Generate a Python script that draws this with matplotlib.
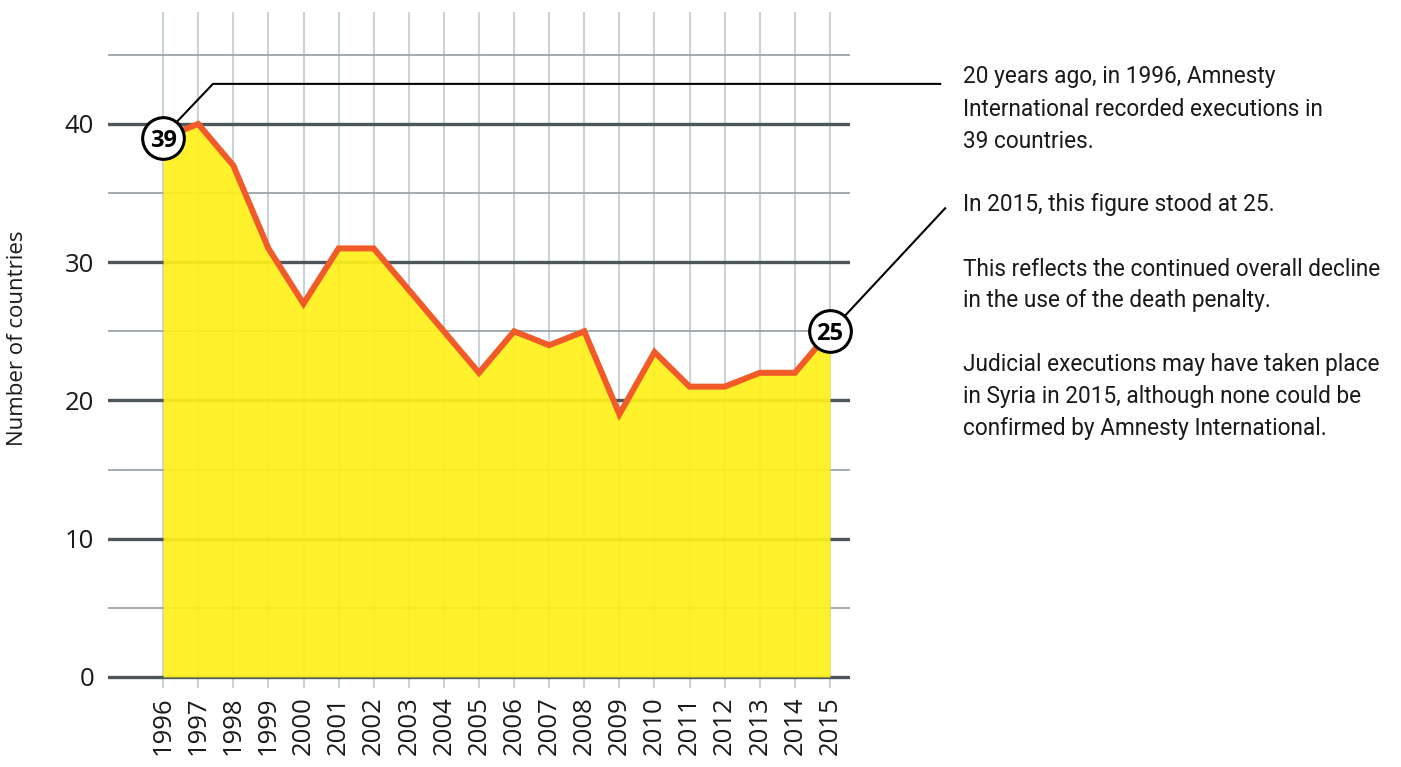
import matplotlib
matplotlib.use("Agg")
import matplotlib.pyplot as plt
import numpy as np

plt.rcParams['font.family'] = ['Open Sans', 'DejaVu Sans']

years = [1996, 1997, 1998, 1999, 2000, 2001, 2002, 2003, 2004, 2005,
         2006, 2007, 2008, 2009, 2010, 2011, 2012, 2013, 2014, 2015]
countries = [39, 40, 37, 31, 27, 31, 31, 28, 25, 22,
             25, 24, 25, 19, 23.5, 21, 21, 22, 22, 25]
major_ticks = [0, 10, 20, 30, 40]
minor_ticks = [5, 15, 25, 35, 45]
note_1996 = ["20 years ago, in 1996, Amnesty",
             "International recorded executions in",
             "39 countries."]
note_2015 = ["In 2015, this figure stood at 25.",
             "",
             "This reflects the continued overall decline",
             "in the use of the death penalty.",
             "",
             "Judicial executions may have taken place",
             "in Syria in 2015, although none could be",
             "confirmed by Amnesty International."]

W, H = 1401, 767
fig = plt.figure(figsize=(W / 100, H / 100), dpi=100)
ax = fig.add_axes([108 / W, 1 - 688 / H, (850 - 108) / W, (688 - 12) / H])
ax.set_xlim(1994.43, 2015.57)
ax.set_ylim(-0.8, 48.1)

# grid
for yr in years:
    ax.axvline(yr, color='#cbd3d9', lw=1.5, zorder=1)
for v in minor_ticks:
    ax.axhline(v, color='#9aa5ab', lw=1.3, zorder=1)
for v in major_ticks:
    ax.axhline(v, color='#4b565d', lw=2.4, zorder=1)

ax.fill_between(years, countries, 0, color='#fff11a', alpha=0.92, lw=0, zorder=2)
ax.plot(years, countries, color='#f15a29', lw=4.3, solid_joinstyle='miter', zorder=3)

for axis in ['top', 'right', 'bottom', 'left']:
    ax.spines[axis].set_visible(False)
ax.set_xticks(years)
ax.set_xticklabels([str(y) for y in years], rotation=90, fontsize=18.5,
                   color='#1a1a1a')
ax.set_yticks(major_ticks)
ax.set_yticklabels([str(v) for v in major_ticks], fontsize=18.5, color='#1a1a1a')
ax.tick_params(length=0, pad=10)
ax.tick_params(axis='x', pad=6)

fig.text(18 / W, 1 - 338 / H, "Number of countries", rotation=90,
         fontsize=16, va='center', ha='center', color='#1a1a1a')

# callout circles
for idx in [0, len(years) - 1]:
    ax.plot(years[idx], countries[idx], 'o', ms=30, mfc='white', mec='black',
            mew=2.2, zorder=6, clip_on=False)
    ax.text(years[idx], countries[idx], f"{countries[idx]:g}", ha='center',
            va='center_baseline', fontsize=17, fontweight='bold', zorder=7)

# leader lines
ax.plot([1996.37, 1997.42, 2018.14], [40.1, 42.9, 42.9], color='black',
        lw=1.5, zorder=5, clip_on=False)
ax.plot([2015.38, 2018.28], [26.0, 33.9], color='black', lw=1.5,
        zorder=5, clip_on=False)

# notes
note_font = ['Roboto', 'DejaVu Sans']
for i, line in enumerate(note_1996):
    fig.text(963 / W, 1 - (77 + i * 32) / H, line, fontsize=16.3,
             va='center', ha='left', color='#1a1a1a', family=note_font)
for i, line in enumerate(note_2015):
    fig.text(963 / W, 1 - (205 + i * 32) / H, line, fontsize=16.3,
             va='center', ha='left', color='#1a1a1a', family=note_font)

fig.savefig("out.png", dpi=100)
